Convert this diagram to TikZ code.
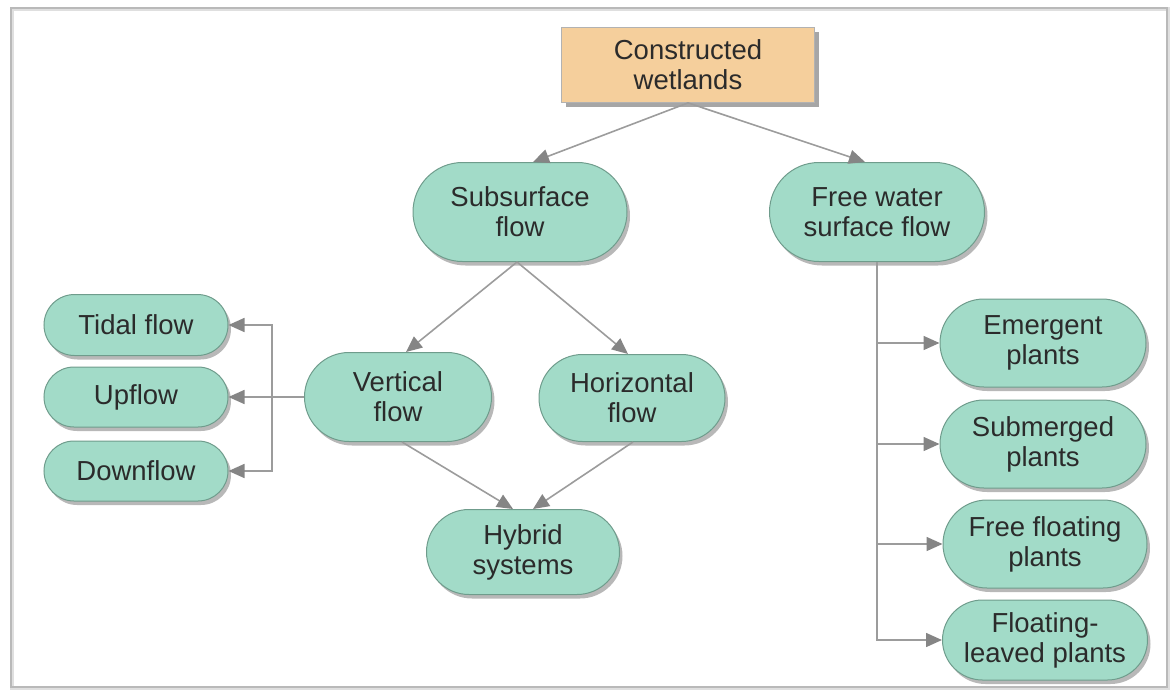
\documentclass[tikz,border=0pt]{standalone}
\usepackage{fontspec}
\setmainfont{Liberation Sans}
\usetikzlibrary{shapes.misc,shadows,arrows.meta,calc}
\definecolor{tanfill}{HTML}{F5CF9C}
\definecolor{greenfill}{HTML}{A2DBC8}
\definecolor{greenline}{HTML}{6F9C8C}
\definecolor{linkgray}{HTML}{9C9C9C}
\definecolor{tipgray}{HTML}{858585}
\definecolor{txt}{HTML}{2B2B2B}
\tikzset{
  pill/.style={rounded rectangle, fill=greenfill, draw=greenline, line width=1pt,
    text=txt, align=center, font=\fontsize{27.5}{30}\selectfont, inner sep=0pt,
    drop shadow={shadow xshift=3pt, shadow yshift=-4pt, fill=black, opacity=.28}},
  topbox/.style={rectangle, fill=tanfill, draw=gray!60, line width=0.8pt,
    text=txt, align=center, font=\fontsize{27.5}{30}\selectfont, inner sep=0pt,
    drop shadow={shadow xshift=4pt, shadow yshift=-4pt, fill=black, opacity=.35}},
  link/.style={draw=linkgray, line width=1.6pt},
  arr/.style={link, -{Triangle[length=16pt,width=14pt,fill=tipgray,color=tipgray]}},
}
\begin{document}
\begin{tikzpicture}[x=1pt,y=-1pt]
\useasboundingbox (0,0) rectangle (1171,696);
% frame
\draw[gray!25, line width=4pt] (12,9) rectangle (1168,688);
\draw[gray!55, line width=1.2pt] (11,8) rectangle (1167,687);

% nodes
\node[topbox, minimum width=253pt, minimum height=75pt] (cw) at (688,65) {Constructed\\wetlands};
\node[pill, minimum width=214pt, minimum height=99pt] (sub) at (520,212) {Subsurface\\flow};
\node[pill, minimum width=215pt, minimum height=99pt] (free) at (877,212) {Free water\\surface flow};
\node[pill, minimum width=184pt, minimum height=61pt] (tidal) at (136,325) {Tidal flow};
\node[pill, minimum width=184pt, minimum height=60pt] (up) at (136,397) {Upflow};
\node[pill, minimum width=184pt, minimum height=60pt] (down) at (136,471) {Downflow};
\node[pill, minimum width=187pt, minimum height=89pt] (vert) at (398,397) {Vertical\\flow};
\node[pill, minimum width=186pt, minimum height=87pt] (horz) at (632,398) {Horizontal\\flow};
\node[pill, minimum width=193pt, minimum height=85pt] (hyb) at (523,552) {Hybrid\\systems};
\node[pill, minimum width=206pt, minimum height=88pt] (emer) at (1043,343) {Emergent\\plants};
\node[pill, minimum width=206pt, minimum height=88pt] (subm) at (1043,444) {Submerged\\plants};
\node[pill, minimum width=204pt, minimum height=88pt] (ffp) at (1045,544) {Free floating\\plants};
\node[pill, minimum width=205pt, minimum height=80pt] (flp) at (1045,640) {Floating-\\leaved plants};

% connectors
\draw[arr] (cw.south) -- ($(sub.north)+(13,0)$);
\draw[arr] (cw.south) -- ($(free.north)+(-12,0)$);
\draw[arr] ($(sub.south)+(-3,0)$) -- ($(vert.north)+(8,0)$);
\draw[arr] ($(sub.south)+(-3,0)$) -- ($(horz.north)+(-4,0)$);
\draw[arr] ($(vert.south)+(4,0)$) -- ($(hyb.north)+(-10,0)$);
\draw[arr] ($(horz.south)+(1,0)$) -- ($(hyb.north)+(10,0)$);

\coordinate (vj) at (272,397);
\draw[link] (vert.west) -- (vj);
\draw[arr] (vj) |- (tidal.east);
\draw[arr] (vj) -- (up.east);
\draw[arr] (vj) |- (down.east);

\draw[arr] (free.south) |- (emer.west);
\draw[arr] (free.south) |- (subm.west);
\draw[arr] (free.south) |- (ffp.west);
\draw[arr] (free.south) |- (flp.west);
\end{tikzpicture}
\end{document}
